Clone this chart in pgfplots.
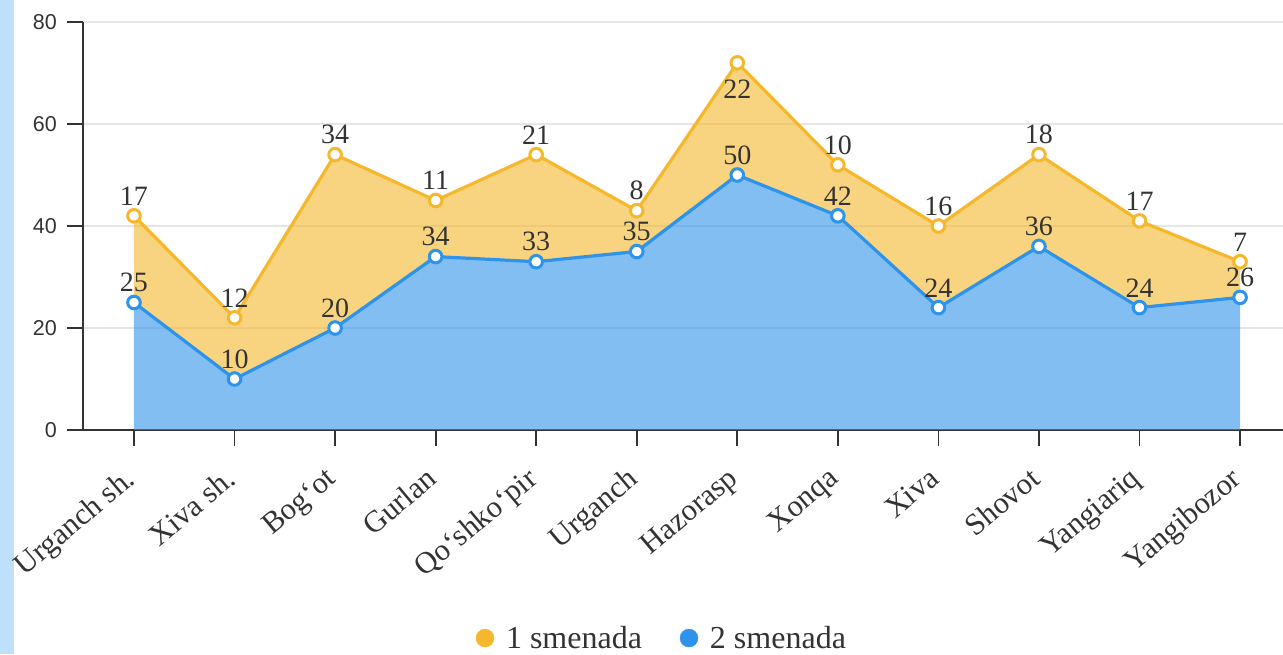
\documentclass[border=0pt]{standalone}
\usepackage{fontspec}
\setmainfont{Liberation Serif}
\newfontfamily\tickfont{Liberation Sans}
\usepackage{pgfplots}
\pgfplotsset{compat=1.18}
\usepgfplotslibrary{fillbetween}
\definecolor{ora}{HTML}{F5B82C}
\definecolor{blu}{HTML}{2E93EA}
\definecolor{txt}{HTML}{333333}
\definecolor{strip}{HTML}{BFE0FB}
\definecolor{gridc}{HTML}{E6E6E6}
\begin{document}
\begin{tikzpicture}[x=1pt,y=1pt]
\fill[strip] (0,0) rectangle (14,654);
\begin{axis}[
  at={(83pt,224pt)}, anchor=south west,
  scale only axis, width=1200pt, height=408pt,
  xmin=-0.507, xmax=11.427, ymin=0, ymax=80,
  axis x line*=bottom, axis y line*=left,
  axis line style={draw=txt, line width=1.5pt, -},
  tick align=outside, major tick length=16pt,
  tick style={line width=1.8pt, draw=txt},
  xtick={0,...,11},
  xticklabels={Urganch sh.,Xiva sh.,Bog‘ot,Gurlan,Qo‘shko‘pir,Urganch,Hazorasp,Xonqa,Xiva,Shovot,Yangiariq,Yangibozor},
  x tick label style={rotate=40, anchor=north east, font=\fontsize{30.5}{30}\selectfont, text=txt, inner sep=0pt, xshift=-21pt, yshift=-8pt},
  ytick={0,20,40,60,80},
  yticklabels={0,20,40,60,80},
  y tick label style={font=\tickfont\fontsize{21.5}{21}\selectfont, text=txt, inner sep=0pt, xshift=-10pt},
  ymajorgrids, grid style={gridc, line width=1.5pt},
  clip=false,
  legend style={at={(0.4825,-0.51)}, anchor=center, draw=none, fill=none,
    font=\fontsize{32}{32}\selectfont, text=txt,
    /tikz/every odd column/.append style={column sep=10pt},
    /tikz/every even column/.append style={column sep=36pt}},
  legend columns=2, legend cell align=left,
  every node near coord/.append style={font=\fontsize{28}{28}\selectfont, text=txt, anchor=south, inner sep=0pt, yshift=9pt},
]
\addplot[name path=B, draw=none, forget plot] coordinates {(0,25) (1,10) (2,20) (3,34) (4,33) (5,35) (6,50) (7,42) (8,24) (9,36) (10,24) (11,26)};
\addplot[name path=T, draw=none, forget plot] coordinates {(0,42) (1,22) (2,54) (3,45) (4,54) (5,43) (6,72) (7,52) (8,40) (9,54) (10,41) (11,33)};
\addplot[name path=Z, draw=none, forget plot] coordinates {(0,0) (11,0)};
\addplot[fill=ora, fill opacity=0.6, draw=none, forget plot] fill between[of=T and B];
\addplot[fill=blu, fill opacity=0.6, draw=none, forget plot] fill between[of=B and Z];
\addplot[blu, line width=3.2pt, mark=*, mark size=6.3pt, mark options={fill=white, draw=blu, line width=3pt}, forget plot,
  nodes near coords, point meta=explicit symbolic]
  coordinates {(0,25)[25] (1,10)[10] (2,20)[20] (3,34)[34] (4,33)[33] (5,35)[35] (6,50)[50] (7,42)[42] (8,24)[24] (9,36)[36] (10,24)[24] (11,26)[26]};
\addplot[ora, line width=3.2pt, mark=*, mark size=6.3pt, mark options={fill=white, draw=ora, line width=3pt}, forget plot,
  nodes near coords, point meta=explicit symbolic]
  coordinates {(0,42)[17] (1,22)[12] (2,54)[34] (3,45)[11] (4,54)[21] (5,43)[8] (6,72)[] (7,52)[10] (8,40)[16] (9,54)[18] (10,41)[17] (11,33)[7]};
\addplot[only marks, mark=none, forget plot, nodes near coords, point meta=explicit symbolic,
  every node near coord/.append style={anchor=north, yshift=-26pt}]
  coordinates {(6,72)[22]};
\addlegendimage{only marks, mark=*, mark size=9pt, ora}
\addlegendentry{1 smenada}
\addlegendimage{only marks, mark=*, mark size=9pt, blu}
\addlegendentry{2 smenada}
\end{axis}
\pgfresetboundingbox
\path[use as bounding box] (0,0) rectangle (1283,654);
\end{tikzpicture}
\end{document}
